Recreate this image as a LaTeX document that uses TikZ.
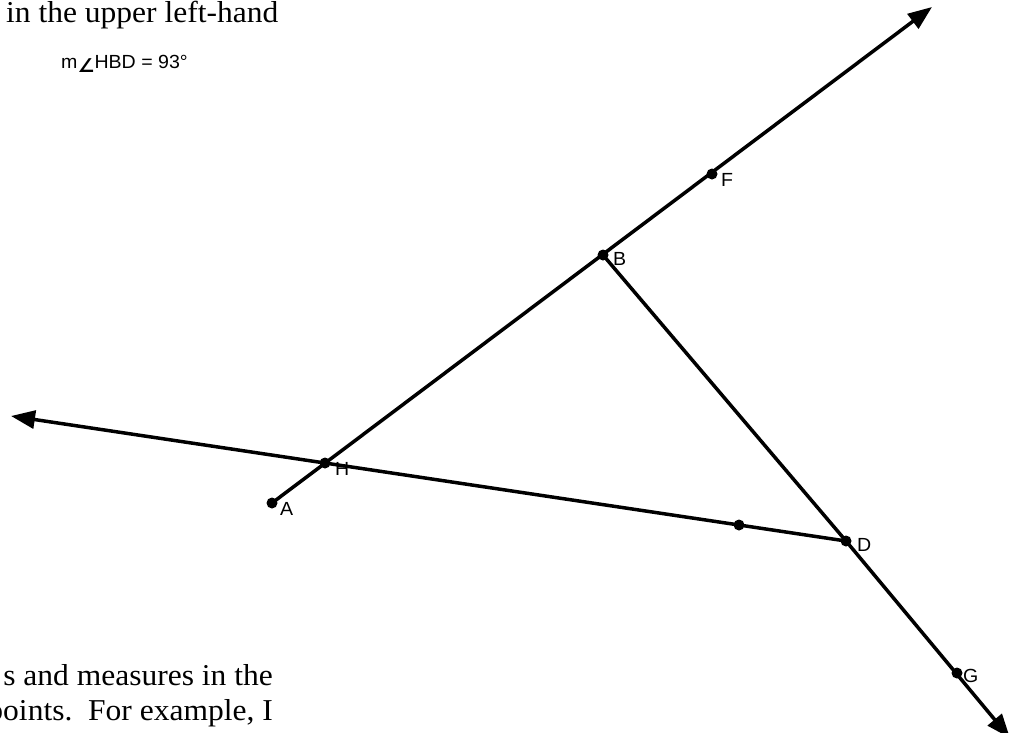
\documentclass[tikz,border=0pt]{standalone}
\usepackage{fontspec}
\setmainfont[FakeStretch=1.04]{Liberation Serif}
\newfontfamily\lblfont[FakeStretch=1.03]{Liberation Sans}
\newfontfamily\symfont{DejaVu Sans}
\usepackage{tikz}
\usetikzlibrary{arrows.meta}
\tikzset{
  pt/.style  ={circle, fill=black, inner sep=0pt, minimum size=11pt},
  lbl/.style ={anchor=base west, inner sep=0pt, font=\lblfont\fontsize{19}{21}\selectfont},
  txt/.style ={inner sep=0pt, font=\fontsize{30.3}{36}\selectfont},
  ray/.style ={line width=3.5pt, -{Triangle[length=24pt, width=18pt]}},
  seg/.style ={line width=3.5pt},
}
\begin{document}
\begin{tikzpicture}[x=1pt,y=-1pt]
\useasboundingbox (0,0) rectangle (1015,732);
\clip (0,0) rectangle (1015,732);
\node[txt, anchor=base west] (top) at (6,22) {in the upper left-hand};
\node[txt, anchor=base east] (bot1) at (273,685) {s and measures in the};
\node[txt, anchor=base east] (bot2) at (273,720) {points.\ \ For example, I};
\node[lbl] (mHBD) at (61,68) {m{\symfont\bfseries\raisebox{-4pt}{∠}}HBD = 93°};
\node[pt] (A) at (272,503) {};
\node[pt] (H) at (325,463) {};
\node[pt] (B) at (603,255) {};
\node[pt] (F) at (712,174) {};
\node[pt] (E) at (739,525) {};
\node[pt] (D) at (846,541) {};
\node[pt] (G) at (957,673) {};
\coordinate (tipF) at (932,7);
\coordinate (tipH) at (11,416);
\coordinate (tipG) at (1010,738);
\draw[ray] (A.center) -- (tipF);
\draw[ray] (D.center) -- (tipH);
\draw[seg] (B.center) -- (D.center);
\draw[ray] (D.center) -- (tipG);
\node[lbl] (labA) at (280,515) {A};
\node[lbl] (labH) at (335,475) {H};
\node[lbl] (labB) at (613,265) {B};
\node[lbl] (labF) at (721,186) {F};
\node[lbl] (labD) at (857,551) {D};
\node[lbl] (labG) at (963,682) {G};
\end{tikzpicture}
\end{document}
